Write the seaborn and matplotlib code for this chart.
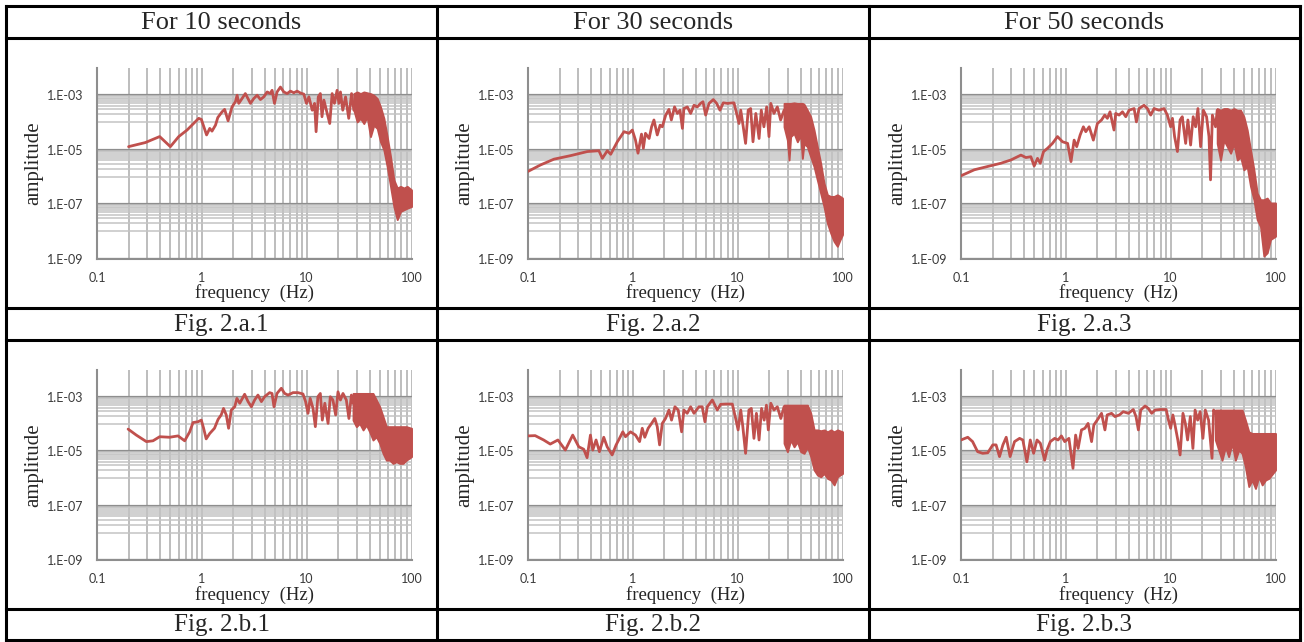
import numpy as np
import matplotlib
matplotlib.use("Agg")
import matplotlib.pyplot as plt
import seaborn as sns
from matplotlib.lines import Line2D
from matplotlib.ticker import FixedLocator, FixedFormatter, NullFormatter

# texts of the table
col_titles = ["For 10 seconds", "For 30 seconds", "For 50 seconds"]
captions = [["Fig. 2.a.1", "Fig. 2.a.2", "Fig. 2.a.3"],
            ["Fig. 2.b.1", "Fig. 2.b.2", "Fig. 2.b.3"]]

# amplitudes are stored as log10 values
# --- Fig. 2.a.1 ---
a1_freq = [0.2, 0.289, 0.396, 0.501, 0.602, 0.723, 0.933, 0.99, 1.11, 1.19, 1.25, 1.35, 1.42, 1.56,
           1.65, 1.78, 1.94, 2.09, 2.17, 2.25, 2.42, 2.60, 2.70, 2.91, 3.13, 3.37, 3.62, 3.90, 4.20,
           4.51, 4.68, 4.93, 5.22, 5.62, 6.05, 6.51, 7.00, 7.54, 8.11, 8.73, 9.39, 9.96, 10.5, 11.3,
           11.9, 12.3, 12.9, 13.5, 14.0, 14.6, 15.7, 16.6, 17.5, 18.4, 19.5, 20.3, 21.0, 22.1, 23.5,
           25.2, 26.8, 28.2]
a1_logamp = [-4.89, -4.74, -4.52, -4.89, -4.52, -4.28, -3.85, -3.89, -4.46, -4.22, -4.32, -4.10, -3.82,
             -3.61, -3.52, -3.94, -3.43, -3.24, -3.00, -3.30, -3.12, -2.94, -3.06, -3.30, -3.12, -3.00,
             -3.16, -3.06, -2.88, -2.94, -2.82, -3.30, -2.88, -2.70, -2.88, -2.94, -2.85, -2.91, -2.85,
             -2.92, -2.96, -3.30, -3.06, -3.55, -3.30, -4.34, -3.06, -2.94, -3.79, -3.18, -3.67, -4.04,
             -2.94, -3.30, -2.82, -3.30, -2.88, -3.55, -3.06, -3.85, -2.94, -3.55]
a1_band_freq = [28.2, 30.3, 32.6, 35.1, 37.7, 40.6, 43.7, 47.1, 50.6, 54.5, 58.6, 63.1, 67.9, 73.1,
                78.6, 84.6, 91.0, 100]
a1_band_hi = [-2.94, -2.88, -2.94, -2.88, -2.91, -2.94, -3.00, -3.12, -3.43, -3.85, -4.52, -5.26,
              -6.11, -6.41, -6.35, -6.41, -6.35, -6.48]
a1_band_lo = [-3.55, -3.98, -3.85, -4.04, -3.79, -4.52, -4.10, -4.22, -4.71, -5.01, -5.62, -6.35,
              -7.09, -7.57, -7.27, -7.21, -7.15, -7.09]

# --- Fig. 2.a.2 ---
a2_freq = [0.1, 0.132, 0.177, 0.255, 0.368, 0.475, 0.512, 0.571, 0.615, 0.711, 0.824, 0.919, 0.989,
           1.06, 1.12, 1.21, 1.26, 1.32, 1.43, 1.51, 1.59, 1.71, 1.82, 1.91, 2.06, 2.21, 2.33, 2.50,
           2.66, 2.82, 2.97, 3.07, 3.31, 3.56, 3.83, 4.12, 4.43, 4.67, 4.95, 5.33, 5.86, 6.30, 6.78,
           7.29, 7.96, 9.22, 9.77, 10.3, 10.7, 11.3, 11.9, 12.6, 13.3, 14.0, 14.9, 16.0, 16.8, 17.8,
           18.9, 19.9, 20.7, 22.2, 23.9, 25.7, 27.7]
a2_logamp = [-5.80, -5.56, -5.35, -5.22, -5.07, -5.04, -5.32, -5.04, -5.17, -4.71, -4.34, -4.40, -4.28,
             -4.65, -5.13, -4.43, -4.95, -4.40, -4.59, -4.16, -3.91, -4.46, -4.10, -4.16, -3.73, -3.52,
             -3.91, -3.43, -3.67, -3.55, -4.22, -3.49, -3.43, -3.67, -3.37, -3.43, -3.30, -3.24, -3.73,
             -3.30, -3.16, -3.30, -3.55, -3.28, -3.30, -3.28, -3.67, -4.04, -3.55, -4.16, -4.77, -3.55,
             -3.49, -4.71, -3.67, -4.59, -3.55, -4.16, -3.43, -4.52, -3.30, -3.67, -3.43, -3.91, -3.55]
a2_band_freq = [27.7, 29.8, 30.9, 32.0, 34.5, 37.1, 39.9, 41.4, 42.9, 46.2, 49.7, 53.5, 57.5, 61.9,
                66.6, 71.7, 77.1, 83.0, 89.3, 95.0, 100]
a2_band_hi = [-3.30, -3.30, -3.30, -3.30, -3.28, -3.30, -3.30, -3.30, -3.33, -3.55, -3.79, -4.28,
              -4.89, -5.50, -6.23, -6.66, -6.72, -6.72, -6.66, -6.72, -6.78]
a2_band_lo = [-4.16, -4.65, -5.38, -4.52, -4.40, -4.71, -4.46, -5.32, -4.77, -4.89, -5.26, -5.62,
              -6.11, -6.60, -7.09, -7.70, -8.06, -8.37, -8.55, -8.30, -8.12]

# --- Fig. 2.a.3 ---
a3_freq = [0.1, 0.134, 0.179, 0.240, 0.299, 0.373, 0.416, 0.464, 0.499, 0.537, 0.570, 0.613, 0.669,
           0.746, 0.833, 0.929, 1.04, 1.12, 1.20, 1.27, 1.37, 1.47, 1.55, 1.67, 1.83, 2.00, 2.19, 2.35,
           2.49, 2.64, 2.88, 2.99, 3.22, 3.47, 3.73, 4.01, 4.48, 4.71, 4.99, 5.57, 6.00, 6.45, 6.94,
           7.74, 8.65, 9.30, 10.0, 10.4, 10.9, 11.6, 12.3, 12.9, 13.9, 14.6, 15.5, 16.4, 17.3, 18.2,
           19.3, 20.5, 22.0, 23.2, 24.0, 25.0, 26.8, 27.8]
a3_logamp = [-5.96, -5.74, -5.62, -5.50, -5.38, -5.20, -5.29, -5.26, -5.60, -5.32, -5.50, -5.07, -4.95,
             -4.77, -4.52, -4.71, -4.77, -5.44, -4.65, -4.89, -4.46, -4.16, -4.34, -4.16, -4.65, -4.04,
             -3.91, -3.73, -3.85, -3.61, -4.28, -3.67, -3.73, -3.61, -3.79, -3.55, -3.49, -3.98, -3.49,
             -3.37, -3.49, -3.73, -3.49, -3.55, -3.49, -3.73, -4.16, -3.85, -4.52, -5.07, -3.91, -3.79,
             -4.77, -3.91, -4.83, -3.79, -4.16, -3.49, -4.89, -3.55, -3.79, -4.52, -6.11, -3.73, -4.16,
             -3.55]
a3_band_freq = [27.8, 29.9, 32.2, 34.7, 37.3, 40.1, 43.2, 46.4, 49.9, 53.7, 57.8, 62.2, 66.9, 71.9,
                77.4, 83.3, 89.6, 100]
a3_band_hi = [-3.49, -3.55, -3.49, -3.49, -3.55, -3.49, -3.55, -3.55, -3.79, -4.28, -5.01, -5.74,
              -6.60, -6.84, -6.84, -6.78, -6.96, -6.96]
a3_band_lo = [-4.77, -5.38, -4.65, -4.89, -5.13, -4.77, -5.38, -5.26, -5.74, -5.62, -6.35, -6.84,
              -7.57, -7.82, -8.91, -8.79, -8.30, -8.18]

# --- Fig. 2.b.1 ---
b1_freq = [0.198, 0.237, 0.296, 0.342, 0.396, 0.493, 0.593, 0.686, 0.766, 0.824, 0.919, 0.989, 1.04,
           1.10, 1.19, 1.32, 1.43, 1.53, 1.61, 1.71, 1.80, 1.91, 2.06, 2.16, 2.30, 2.56, 2.76, 2.97,
           3.19, 3.43, 3.70, 3.97, 4.43, 4.67, 4.88, 5.21, 5.73, 6.17, 6.64, 7.41, 8.26, 9.22, 9.77,
           10.3, 10.8, 11.5, 12.1, 12.8, 13.5, 14.1, 14.9, 16.0, 16.8, 17.8, 18.9, 19.9, 21.0, 22.2,
           23.9, 25.3, 26.7, 27.7]
b1_logamp = [-4.19, -4.41, -4.65, -4.62, -4.47, -4.49, -4.44, -4.62, -4.29, -3.95, -3.92, -3.86, -4.16,
             -4.55, -4.35, -4.16, -3.83, -3.67, -3.43, -3.67, -4.16, -3.49, -3.37, -3.06, -3.24, -2.91,
             -3.18, -3.37, -3.12, -2.94, -3.18, -3.00, -2.85, -2.88, -3.37, -2.88, -2.69, -2.88, -2.94,
             -2.85, -2.85, -2.90, -3.18, -3.61, -3.06, -3.43, -4.10, -3.00, -2.88, -3.86, -3.24, -3.98,
             -3.00, -3.12, -3.67, -2.82, -3.12, -2.88, -3.12, -3.80, -2.94, -3.24]
b1_band_freq = [27.7, 29.8, 32.0, 34.5, 37.1, 39.9, 42.9, 46.2, 49.7, 53.5, 57.5, 61.9, 66.6, 71.7,
                77.1, 83.0, 89.3, 100]
b1_band_hi = [-2.88, -2.88, -2.88, -2.88, -2.88, -2.88, -2.88, -3.12, -3.37, -3.73, -4.10, -4.10,
              -4.10, -4.10, -4.10, -4.10, -4.10, -4.16]
b1_band_lo = [-3.86, -4.10, -3.98, -4.22, -4.04, -4.29, -4.59, -4.47, -4.71, -5.08, -5.33, -5.33,
              -5.45, -5.39, -5.45, -5.45, -5.33, -5.20]

# --- Fig. 2.b.2 ---
b2_freq = [0.1, 0.117, 0.141, 0.163, 0.193, 0.227, 0.267, 0.305, 0.340, 0.366, 0.394, 0.415, 0.446,
           0.480, 0.528, 0.569, 0.635, 0.693, 0.746, 0.802, 0.851, 0.950, 1.06, 1.16, 1.23, 1.30, 1.40,
           1.51, 1.62, 1.71, 1.80, 1.91, 2.05, 2.21, 2.34, 2.52, 2.71, 2.92, 3.07, 3.30, 3.56, 3.83,
           4.27, 4.59, 4.87, 5.13, 5.73, 6.39, 6.88, 7.68, 8.89, 9.57, 10.1, 10.7, 11.2, 11.9, 12.8,
           13.5, 14.3, 15.1, 16.0, 16.9, 17.9, 18.8, 19.6, 20.7, 22.2, 23.9, 25.8, 27.7]
b2_logamp = [-4.44, -4.43, -4.59, -4.74, -4.59, -4.96, -4.41, -4.84, -4.93, -5.24, -4.41, -4.96, -4.59,
             -5.02, -4.49, -4.84, -5.14, -4.77, -4.53, -4.29, -4.47, -4.29, -4.41, -4.65, -4.16, -4.49,
             -4.16, -3.98, -3.80, -4.10, -4.77, -3.98, -3.80, -3.49, -3.86, -3.37, -3.49, -4.29, -3.49,
             -3.61, -3.37, -3.61, -3.37, -3.37, -3.92, -3.37, -3.12, -3.49, -3.28, -3.27, -3.27, -3.80,
             -4.22, -3.49, -4.10, -5.08, -3.49, -3.43, -4.53, -3.61, -4.59, -3.43, -3.86, -3.31, -4.22,
             -3.24, -3.49, -3.37, -3.80, -3.37]
b2_band_freq = [27.7, 29.8, 32.1, 34.5, 37.1, 40.0, 43.0, 46.3, 49.8, 53.6, 57.7, 62.1, 66.8, 71.9,
                77.4, 83.2, 89.6, 100]
b2_band_hi = [-3.31, -3.31, -3.31, -3.31, -3.31, -3.31, -3.31, -3.31, -3.61, -4.22, -4.22, -4.25,
              -4.22, -4.29, -4.22, -4.29, -4.22, -4.29]
b2_band_lo = [-4.71, -5.02, -4.59, -4.84, -4.65, -5.02, -5.08, -4.84, -5.20, -5.69, -5.88, -5.94,
              -5.82, -6.00, -6.06, -6.24, -5.94, -5.82]

# --- Fig. 2.b.3 ---
b3_freq = [0.1, 0.116, 0.129, 0.144, 0.161, 0.180, 0.201, 0.216, 0.233, 0.251, 0.270, 0.294, 0.324,
           0.362, 0.389, 0.425, 0.458, 0.493, 0.531, 0.571, 0.628, 0.661, 0.711, 0.783, 0.843, 0.907,
           0.976, 1.07, 1.17, 1.24, 1.31, 1.41, 1.52, 1.63, 1.76, 1.85, 2.04, 2.19, 2.36, 2.48, 2.73,
           2.94, 3.24, 3.53, 3.95, 4.40, 4.67, 4.92, 5.18, 5.70, 6.12, 6.59, 7.10, 7.93, 9.06, 9.53,
           10.0, 10.5, 11.0, 11.7, 12.3, 13.1, 13.8, 14.5, 15.4, 16.3, 17.1, 18.1, 19.1, 20.3, 21.4,
           23.0, 24.8, 25.7, 26.7]
b3_logamp = [-4.59, -4.49, -4.65, -5.02, -5.08, -5.06, -4.77, -4.77, -5.20, -4.77, -4.49, -5.20, -4.65,
             -4.53, -4.59, -5.39, -4.59, -5.08, -4.59, -4.71, -5.33, -4.96, -4.65, -4.53, -4.59, -4.44,
             -4.65, -4.53, -5.63, -4.41, -4.90, -4.22, -4.16, -3.98, -4.65, -4.04, -3.80, -3.61, -4.22,
             -3.67, -3.61, -3.73, -3.67, -3.55, -3.61, -3.47, -3.73, -4.22, -3.49, -3.34, -3.43, -3.61,
             -3.49, -3.47, -3.47, -3.86, -4.16, -3.67, -4.04, -4.59, -5.14, -3.61, -3.98, -4.59, -3.73,
             -4.90, -3.49, -3.86, -3.55, -4.53, -3.49, -3.86, -5.26, -3.49, -3.61]
b3_band_freq = [26.7, 28.7, 30.9, 33.3, 35.7, 38.5, 41.4, 44.6, 48.0, 51.6, 55.6, 59.8, 64.4, 69.3,
                74.6, 80.3, 86.4, 100]
b3_band_hi = [-3.49, -3.49, -3.49, -3.49, -3.49, -3.49, -3.49, -3.49, -3.49, -3.86, -4.29, -4.35,
              -4.35, -4.35, -4.35, -4.35, -4.35, -4.35]
b3_band_lo = [-4.59, -4.96, -5.33, -4.84, -5.20, -4.71, -5.33, -4.96, -5.08, -5.57, -6.30, -6.06,
              -6.37, -5.94, -6.24, -6.06, -6.00, -5.69]

panels = [
    [(a1_freq, a1_logamp, a1_band_freq, a1_band_hi, a1_band_lo),
     (a2_freq, a2_logamp, a2_band_freq, a2_band_hi, a2_band_lo),
     (a3_freq, a3_logamp, a3_band_freq, a3_band_hi, a3_band_lo)],
    [(b1_freq, b1_logamp, b1_band_freq, b1_band_hi, b1_band_lo),
     (b2_freq, b2_logamp, b2_band_freq, b2_band_hi, b2_band_lo),
     (b3_freq, b3_logamp, b3_band_freq, b3_band_hi, b3_band_lo)],
]

sns.set_style("white")
plt.rcParams["font.family"] = ["Liberation Serif", "DejaVu Serif"]

red = "#C0504D"
W, H = 1304, 642
fig = plt.figure(figsize=(W / 100, H / 100), dpi=100)


def fx(px):
    return px / W


def fy(py):
    return 1 - py / H


col_left = [97, 528, 961]
row_top = [68, 369.5]
ax_w, ax_h = 314.5, 190.5

y_major = [1e-9, 1e-7, 1e-5, 1e-3]
y_labels = ["1.E-09", "1.E-07", "1.E-05", "1.E-03"]
y_minor = [k * 10.0 ** e for e in (-8, -6, -4) for k in range(1, 10)]
x_major = [0.1, 1, 10, 100]
x_labels = ["0.1", "1", "10", "100"]
x_minor = [k * 10.0 ** e for e in (-1, 0, 1) for k in range(2, 10)]

for r in range(2):
    for c in range(3):
        freq, logamp, bf, bhi, blo = panels[r][c]
        ax = fig.add_axes([fx(col_left[c]), fy(row_top[r] + ax_h), ax_w / W, ax_h / H])
        ax.set_xscale("log")
        ax.set_yscale("log")
        ax.set_axisbelow(True)

        ax.fill_between(bf, 10.0 ** np.array(blo), 10.0 ** np.array(bhi),
                        color=red, linewidth=1.4, zorder=2)
        sns.lineplot(x=freq, y=10.0 ** np.array(logamp), ax=ax, color=red, linewidth=2.0,
                     estimator=None, sort=False, solid_joinstyle="round", zorder=3)

        ax.set_xlim(0.1, 100)
        ax.set_ylim(1e-9, 1e-2)
        ax.xaxis.set_major_locator(FixedLocator(x_major))
        ax.xaxis.set_major_formatter(FixedFormatter(x_labels))
        ax.xaxis.set_minor_locator(FixedLocator(x_minor))
        ax.xaxis.set_minor_formatter(NullFormatter())
        ax.yaxis.set_major_locator(FixedLocator(y_major))
        ax.yaxis.set_major_formatter(FixedFormatter(y_labels))
        ax.yaxis.set_minor_locator(FixedLocator(y_minor))
        ax.yaxis.set_minor_formatter(NullFormatter())

        ax.grid(which="both", axis="x", color="#BDBDBD", linewidth=1.4)
        ax.grid(which="major", axis="y", color="#8E8E8E", linewidth=1.6)
        ax.grid(which="minor", axis="y", color="#C4C4C4", linewidth=1.1)

        for side in ["top", "right"]:
            ax.spines[side].set_visible(False)
        for side in ["left", "bottom"]:
            ax.spines[side].set_color("#8E8E8E")
            ax.spines[side].set_linewidth(1.5)
        ax.tick_params(which="major", direction="out", length=3.5, width=1.2, color="#8E8E8E",
                       labelsize=9, labelcolor="#3A3A3A", pad=6)
        ax.tick_params(which="minor", length=0)
        for lab in ax.get_xticklabels() + ax.get_yticklabels():
            lab.set_family("Lato")

        ax.set_xlabel("frequency  (Hz)", fontsize=13.5)
        ax.set_ylabel("amplitude", fontsize=15)
        ax.xaxis.set_label_coords(0.5, -0.135)
        ax.yaxis.set_label_coords(-0.172, 0.5)

# table frame
for py in [6, 38, 308, 340, 609, 640]:
    fig.add_artist(Line2D([fx(6), fx(1300)], [fy(py), fy(py)], color="black", linewidth=2.2,
                          solid_capstyle="projecting"))
for px in [6, 437, 869, 1300]:
    fig.add_artist(Line2D([fx(px), fx(px)], [fy(6), fy(640)], color="black", linewidth=2.2,
                          solid_capstyle="projecting"))

col_mid = [221.5, 653, 1084.5]
for c in range(3):
    fig.text(fx(col_mid[c]), fy(23), col_titles[c], ha="center", va="center", fontsize=19)
    fig.text(fx(col_mid[c]), fy(325), captions[0][c], ha="center", va="center", fontsize=18)
    fig.text(fx(col_mid[c]), fy(625), captions[1][c], ha="center", va="center", fontsize=18)

fig.savefig("out.png", dpi=100)
